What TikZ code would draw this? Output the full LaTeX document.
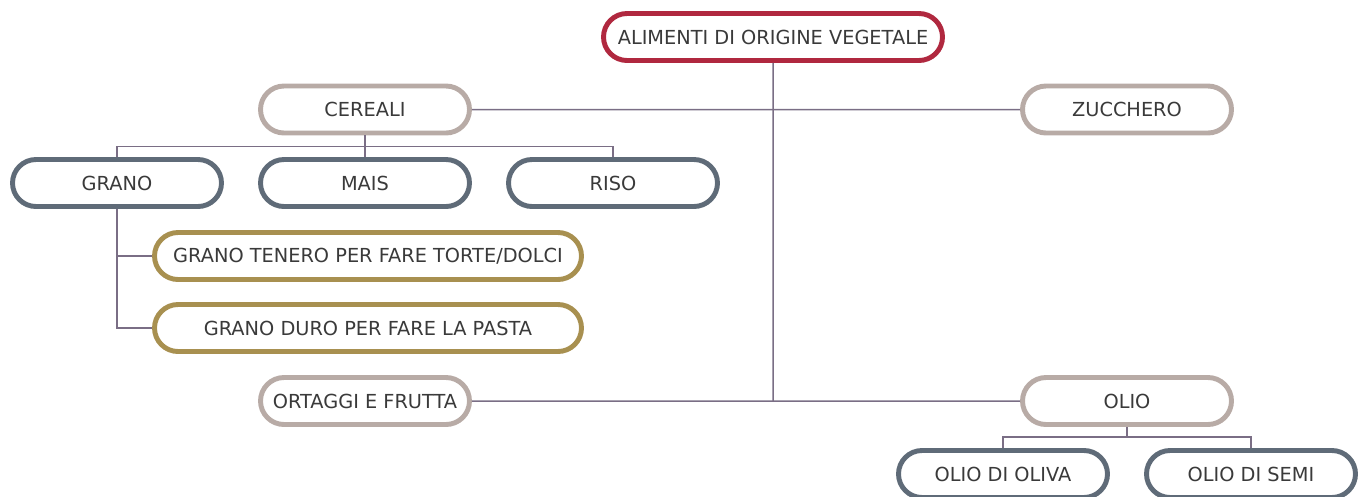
\documentclass[tikz,border=0pt]{standalone}
\usepackage{fontspec}
\setmainfont{DejaVu Sans}
\usetikzlibrary{shapes.misc}

\definecolor{rosso}{HTML}{B0283F}
\definecolor{sabbia}{HTML}{B8ABA6}
\definecolor{ardesia}{HTML}{5F6B78}
\definecolor{oro}{HTML}{A89050}
\definecolor{linea}{HTML}{7A6E85}
\definecolor{testo}{HTML}{3A3A3A}

\begin{document}
\begin{tikzpicture}[
  voce/.style={rounded rectangle, draw, fill=white, line width=2.8pt, text=testo,
    minimum width=4.18cm, minimum height=0.94cm, inner sep=0pt,
    font=\fontsize{11}{13}\selectfont},
  radice/.style={voce, draw=rosso, minimum width=6.78cm},
  gruppo/.style={voce, draw=sabbia},
  tipo/.style={voce, draw=ardesia},
  uso/.style={voce, draw=oro, minimum width=8.54cm},
  ramo/.style={draw=linea, line width=0.85pt}
]
\useasboundingbox (0,0) rectangle (27.32,-9.92);

\node[radice] (alimenti) at (15.46,-0.74) {ALIMENTI DI ORIGINE VEGETALE};
\node[gruppo] (cereali) at (7.30,-2.19) {CEREALI};
\node[gruppo] (zucchero) at (22.54,-2.19) {ZUCCHERO};
\node[tipo] (grano) at (2.34,-3.66) {GRANO};
\node[tipo] (mais) at (7.30,-3.66) {MAIS};
\node[tipo] (riso) at (12.26,-3.66) {RISO};
\node[uso] (tenero) at (7.36,-5.12) {GRANO TENERO PER FARE TORTE/DOLCI};
\node[uso] (duro) at (7.36,-6.56) {GRANO DURO PER FARE LA PASTA};
\node[gruppo] (ortaggi) at (7.30,-8.02) {ORTAGGI E FRUTTA};
\node[gruppo] (olio) at (22.54,-8.02) {OLIO};
\node[tipo] (oliva) at (20.06,-9.48) {OLIO DI OLIVA};
\node[tipo] (semi) at (25.02,-9.48) {OLIO DI SEMI};

\draw[ramo] (alimenti) -- (alimenti |- olio);
\draw[ramo] (cereali) -- (zucchero);
\draw[ramo] (ortaggi) -- (olio);

\draw[ramo] (cereali.south) -- ++(0,-0.22) -| (grano.north);
\draw[ramo] (cereali.south) -- ++(0,-0.22) -| (riso.north);
\draw[ramo] (cereali.south) -- (mais.north);

\draw[ramo] (grano.south) |- (tenero.west);
\draw[ramo] (grano.south) |- (duro.west);

\draw[ramo] (olio.south) -- ++(0,-0.2) -| (oliva.north);
\draw[ramo] (olio.south) -- ++(0,-0.2) -| (semi.north);
\end{tikzpicture}
\end{document}
